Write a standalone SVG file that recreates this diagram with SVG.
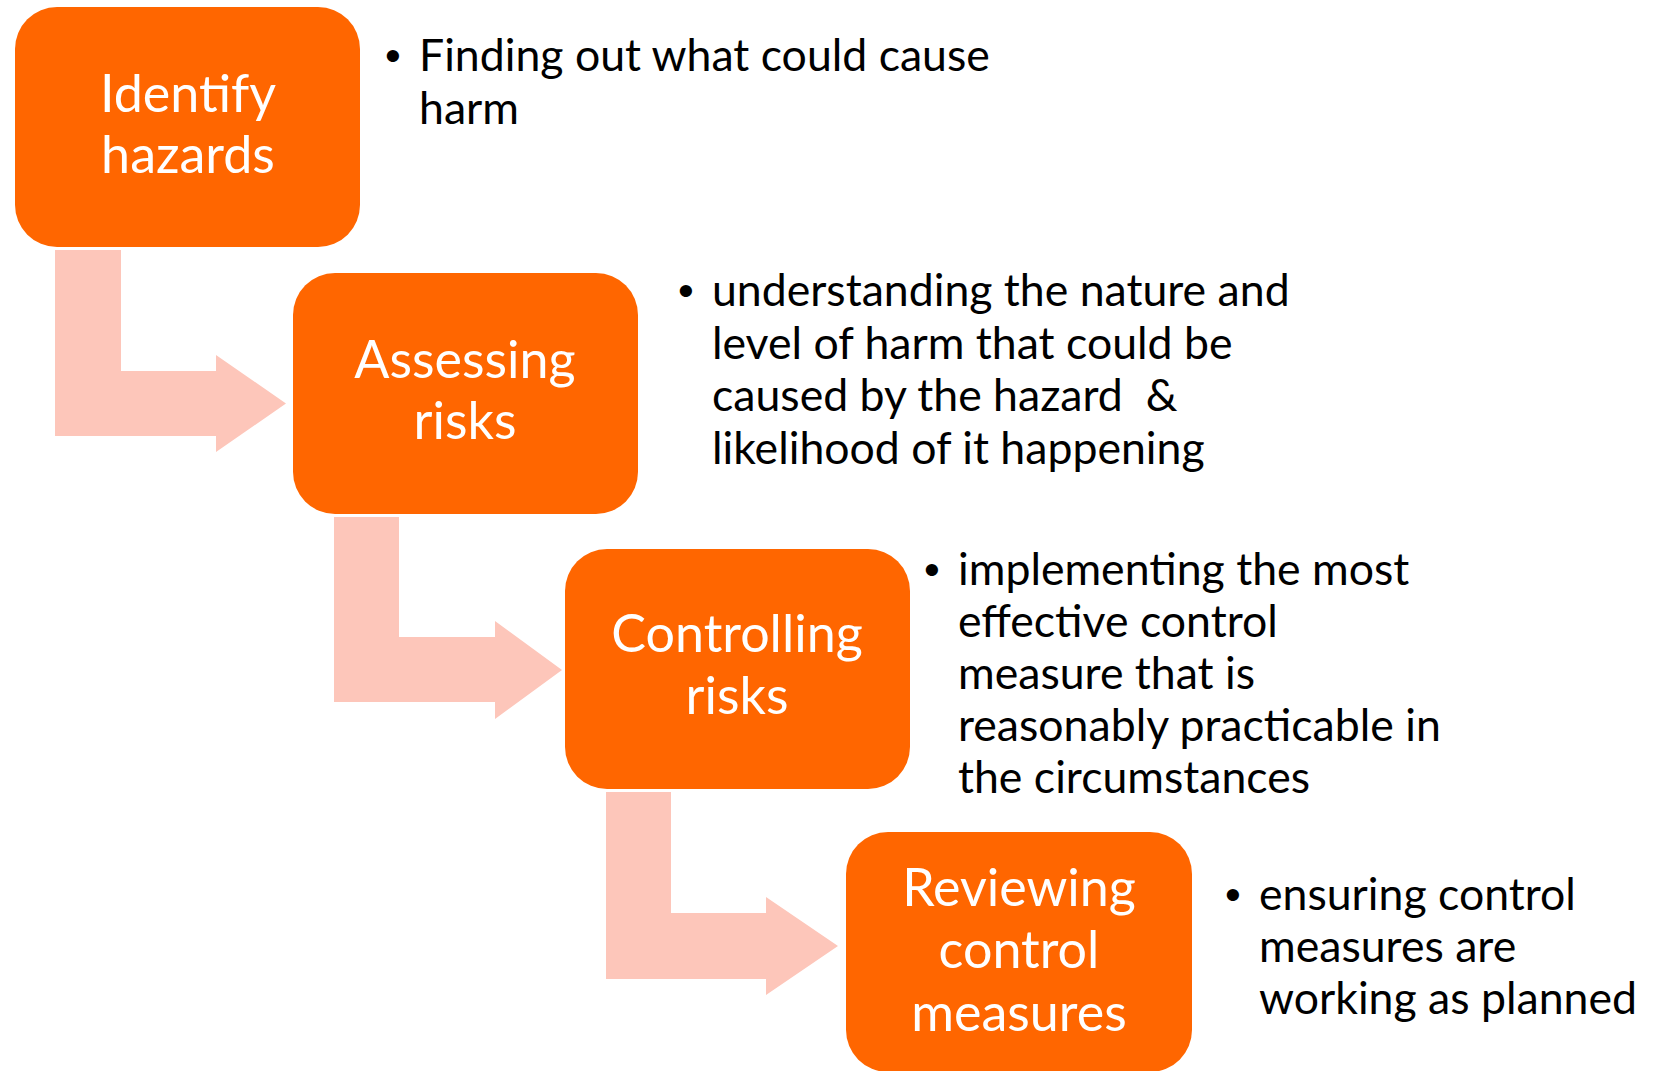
<svg xmlns="http://www.w3.org/2000/svg" width="1663" height="1071" viewBox="0 0 1663 1071">
<style>
.box{fill:#FF6600}
.arrow{fill:#FDC6BA}
.lbl{font-family:Lato,"Open Sans","Liberation Sans",sans-serif;font-size:52px;fill:#FFFFFF;text-anchor:middle}
.txt{font-family:Lato,"Open Sans","Liberation Sans",sans-serif;font-size:44.6px;fill:#000000;white-space:pre}
.bul{font-family:"Liberation Sans",Arial,sans-serif;font-size:45px;fill:#000000}
</style>
<rect width="1663" height="1071" fill="#FFFFFF"/>
<g id="connectors">
<path class="arrow" d="M55,250 H121 V371 H216 V355 L286,403.5 L216,452 V436 H55 Z"/>
<path class="arrow" d="M334,517 H399 V637 H495 V621 L562,670 L495,719 V702 H334 Z"/>
<path class="arrow" d="M606,792 H671 V913 H766 V897 L838,946 L766,995 V979 H606 Z"/>
</g>
<g id="node-identify">
<rect class="box" x="15" y="7" width="345" height="240" rx="42"/>
<text class="lbl" x="188" y="112">Identify</text>
<text class="lbl" x="188" y="173">hazards</text>
</g>
<g id="node-assessing">
<rect class="box" x="293" y="273" width="345" height="241" rx="42"/>
<text class="lbl" x="465" y="378">Assessing</text>
<text class="lbl" x="465" y="439">risks</text>
</g>
<g id="node-controlling">
<rect class="box" x="565" y="549" width="345" height="240" rx="42"/>
<text class="lbl" x="737" y="652">Controlling</text>
<text class="lbl" x="737" y="714">risks</text>
</g>
<g id="node-reviewing">
<rect class="box" x="846" y="832" width="346" height="240" rx="42"/>
<text class="lbl" x="1019" y="906">Reviewing</text>
<text class="lbl" x="1019" y="968">control</text>
<text class="lbl" x="1019" y="1031">measures</text>
</g>
<g id="desc-identify">
<text class="bul" x="385" y="71">•</text>
<text class="txt" x="419" y="71">Finding out what could cause</text>
<text class="txt" x="419" y="124">harm</text>
</g>
<g id="desc-assessing">
<text class="bul" x="678" y="306">•</text>
<text class="txt" x="712" y="306">understanding the nature and</text>
<text class="txt" x="712" y="359">level of harm that could be</text>
<text class="txt" x="712" y="411" xml:space="preserve">caused by the hazard  &amp;</text>
<text class="txt" x="712" y="464">likelihood of it happening</text>
</g>
<g id="desc-controlling">
<text class="bul" x="924" y="585">•</text>
<text class="txt" x="958" y="585">implementing the most</text>
<text class="txt" x="958" y="637">effective control</text>
<text class="txt" x="958" y="689">measure that is</text>
<text class="txt" x="958" y="741">reasonably practicable in</text>
<text class="txt" x="958" y="793">the circumstances</text>
</g>
<g id="desc-reviewing">
<text class="bul" x="1225" y="910">•</text>
<text class="txt" x="1259" y="910">ensuring control</text>
<text class="txt" x="1259" y="962">measures are</text>
<text class="txt" x="1259" y="1014">working as planned</text>
</g>
</svg>
